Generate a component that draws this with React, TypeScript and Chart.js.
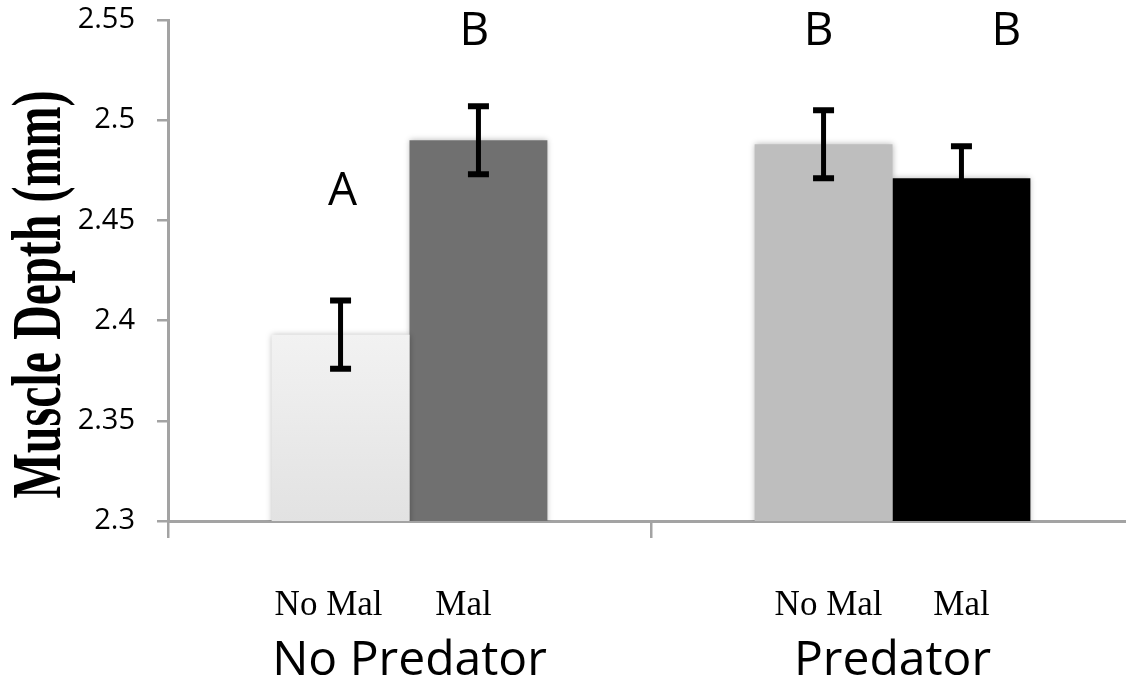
import React, { useEffect, useRef } from "react";
import { Chart, registerables } from "chart.js";

Chart.register(...registerables);

// ---- data ----
const groups = ["No Predator", "Predator"];
const seriesNames = ["No Mal", "Mal"];
const noMalMeans = [2.393, 2.488];
const malMeans = [2.49, 2.471];
const noMalErr = [0.017, 0.017];
const malErr = [0.017, 0.016];
const noMalLetters = ["A", "B"];
const malLetters = ["B", "B"];
const yTickLabels = ["2.3", "2.35", "2.4", "2.45", "2.5", "2.55"];
const yTitle = "Muscle Depth (mm)";

const AXIS_GRAY = "#a3a3a3";
const SANS = "'Open Sans', 'Noto Sans', sans-serif";
const SERIF = "'Liberation Serif', 'DejaVu Serif', serif";

const annotationPlugin = {
  id: "annotations",
  beforeDatasetsDraw(chart: any) {
    const ctx = chart.ctx;
    ctx.save();
    ctx.shadowColor = "rgba(0,0,0,0.28)";
    ctx.shadowBlur = 6;
    ctx.shadowOffsetX = 0;
    ctx.shadowOffsetY = 0;
  },
  afterDatasetsDraw(chart: any, _args: any, opts: any) {
    const ctx = chart.ctx;
    ctx.restore();
    const y = chart.scales.y;
    const area = chart.chartArea;
    ctx.save();
    // error bars
    chart.data.datasets.forEach((ds: any, di: number) => {
      const meta = chart.getDatasetMeta(di);
      meta.data.forEach((bar: any, i: number) => {
        const v = ds.data[i];
        const e = ds.errors[i];
        const yTop = y.getPixelForValue(v + e);
        const yBot = y.getPixelForValue(v - e);
        const x = bar.x;
        ctx.strokeStyle = "#000";
        ctx.lineWidth = 5;
        ctx.beginPath();
        ctx.moveTo(x, yTop);
        ctx.lineTo(x, yBot);
        ctx.stroke();
        ctx.lineWidth = 6;
        ctx.beginPath();
        ctx.moveTo(x - 10.5, yTop);
        ctx.lineTo(x + 10.5, yTop);
        ctx.moveTo(x - 10.5, yBot);
        ctx.lineTo(x + 10.5, yBot);
        ctx.stroke();
      });
    });
    // significance letters and series labels under bars
    chart.data.datasets.forEach((ds: any, di: number) => {
      const meta = chart.getDatasetMeta(di);
      meta.data.forEach((bar: any, i: number) => {
        const idx = i * 2 + di;
        const letter = ds.letters[i];
        const lx = bar.x + opts.letterOffsets[idx];
        const ly = y.getPixelForValue(opts.letterLevels[letter]);
        ctx.fillStyle = "#000";
        ctx.font = `46px ${SANS}`;
        ctx.textAlign = "center";
        ctx.textBaseline = "alphabetic";
        ctx.fillText(letter, lx, ly);
        ctx.font = `35px ${SERIF}`;
        ctx.fillText(ds.label, bar.x + opts.subOffsets[idx], area.bottom + 94);
      });
    });
    // y axis title (stretched like the reference)
    ctx.save();
    ctx.translate(60, (area.top + area.bottom) / 2 + 24);
    ctx.rotate(-Math.PI / 2);
    ctx.scale(1, 1.45);
    ctx.font = `bold 48px ${SERIF}`;
    ctx.textAlign = "center";
    ctx.textBaseline = "alphabetic";
    ctx.fillStyle = "#000";
    ctx.fillText(yTitle, 0, 0);
    ctx.restore();
    ctx.restore();
  },
};

export default function App() {
  const ref = useRef<HTMLCanvasElement | null>(null);

  useEffect(() => {
    if (!ref.current) return;
    const noMalColor = (c: any) => {
      if (c.dataIndex === 1) return "#bebebe";
      const chart = c.chart;
      const area = chart.chartArea;
      if (!area) return "#ececec";
      const top = chart.scales.y.getPixelForValue(noMalMeans[0]);
      const g = chart.ctx.createLinearGradient(0, top, 0, area.bottom);
      g.addColorStop(0, "#f2f2f2");
      g.addColorStop(1, "#e2e2e2");
      return g;
    };
    const chart = new Chart(ref.current, {
      type: "bar",
      data: {
        labels: groups,
        datasets: [
          {
            label: seriesNames[0],
            data: noMalMeans,
            errors: noMalErr,
            letters: noMalLetters,
            backgroundColor: noMalColor,
            borderWidth: 0,
          } as any,
          {
            label: seriesNames[1],
            data: malMeans,
            errors: malErr,
            letters: malLetters,
            backgroundColor: ["#707070", "#000000"],
            borderWidth: 0,
          } as any,
        ],
      },
      options: {
        animation: false,
        responsive: false,
        events: [],
        layout: { padding: { left: 0, right: 6, top: 20, bottom: 0 } },
        datasets: { bar: { categoryPercentage: 0.571, barPercentage: 1.0 } },
        plugins: {
          legend: { display: false },
          tooltip: { enabled: false },
          annotations: {
            letterLevels: { A: 2.4577, B: 2.5375 },
            letterOffsets: [2, -4, -5, 45],
            subOffsets: [-12, -15, 5, 0],
          },
        } as any,
        scales: {
          x: {
            afterFit: (s: any) => {
              s.height = 161;
            },
            grid: {
              offset: true,
              drawOnChartArea: false,
              drawTicks: true,
              tickLength: 17,
              color: AXIS_GRAY,
              lineWidth: 2.5,
            },
            border: { color: AXIS_GRAY, width: 3 },
            ticks: {
              color: "#000",
              padding: 95,
              font: { family: SANS, size: 48 },
              maxRotation: 0,
            },
          },
          y: {
            min: 2.3,
            max: 2.55,
            afterFit: (s: any) => {
              s.width = 168;
              s.paddingTop = 0;
              s.paddingBottom = 0;
            },
            grid: {
              drawOnChartArea: false,
              drawTicks: true,
              tickLength: 11,
              color: AXIS_GRAY,
              lineWidth: 2.5,
            },
            border: { color: AXIS_GRAY, width: 3 },
            ticks: {
              stepSize: 0.05,
              color: "#000",
              padding: 22,
              font: { family: SANS, size: 29 },
              callback: (_v: any, i: number) => yTickLabels[i],
            },
          },
        },
      },
      plugins: [annotationPlugin],
    });
    return () => chart.destroy();
  }, []);

  return (
    <div
      style={{
        position: "absolute",
        left: 0,
        top: 0,
        width: 1126,
        height: 682,
        overflow: "hidden",
        background: "#fff",
      }}
    >
      <canvas ref={ref} width={1140} height={682} style={{ display: "block" }} />
    </div>
  );
}
